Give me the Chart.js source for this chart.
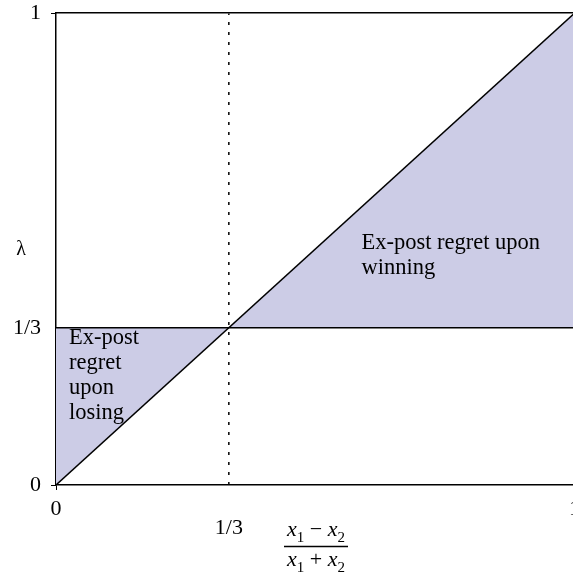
<!DOCTYPE html>
<html>
<head>
<meta charset="utf-8">
<script src="https://cdn.jsdelivr.net/npm/chart.js@4"></script>
<style>
  html, body { margin: 0; padding: 0; overflow: hidden; background: #fff; }
  canvas { display: block; margin-top: -10px; }
</style>
</head>
<body>
<canvas id="grafico" width="589" height="586" style="width:589px;height:586px"></canvas>
<script>
// Datos
const tercio = 1 / 3;
const xTicks = [0, tercio, 1];
const xTickLabels = ['0', ['', '1/3'], '1'];
const yTicks = [0, tercio, 1];
const yTickLabels = ['0', '1/3', '1'];

const diagonalX = [0, 1];
const diagonalY = [0, 1];
const horizontalX = [0, 1];
const horizontalY = [tercio, tercio];
const verticalX = [tercio, tercio];
const verticalY = [0, 1];
const zonaPerderX = [0, 0, tercio];
const zonaPerderY = [0, tercio, tercio];
const zonaGanarX = [tercio, 1, 1];
const zonaGanarY = [tercio, 1, tercio];

const textoGanar = ['Ex-post regret upon', 'winning'];
const textoPerder = ['Ex-post', 'regret', 'upon', 'losing'];

const fuente = '"Liberation Serif", "Times New Roman", serif';
const lavanda = 'rgb(204,204,230)';
const desfase = 10; // el canvas sube 10px

const puntos = (xs, ys) => xs.map((x, i) => ({ x: x, y: ys[i] }));

// Rótulos: lambda, anotaciones y título del eje x
const rotulos = {
    id: 'rotulos',
    afterDraw(chart) {
        const ctx = chart.ctx;
        const xs = chart.scales.x;
        const ys = chart.scales.y;
        ctx.save();
        ctx.fillStyle = '#000';
        ctx.font = '20px ' + fuente;
        ctx.textBaseline = 'middle';

        ctx.textAlign = 'center';
        ctx.fillText('λ', 21, 250 + desfase);

        ctx.font = '22.5px ' + fuente;
        ctx.textAlign = 'left';
        textoGanar.forEach((t, i) => {
            ctx.fillText(t, xs.getPixelForValue(0.589), ys.getPixelForValue(0.512) + i * 25);
        });
        textoPerder.forEach((t, i) => {
            ctx.fillText(t, xs.getPixelForValue(0.025), ys.getPixelForValue(0.311) + i * 25);
        });

        // fracción (x1 - x2)/(x1 + x2)
        ctx.textBaseline = 'alphabetic';
        const piezas = (op) => [
            { t: 'x', f: 'italic 22px ' + fuente, dy: 0 },
            { t: '1', f: '15px ' + fuente, dy: 6 },
            { t: op, f: '22px ' + fuente, dy: 0 },
            { t: 'x', f: 'italic 22px ' + fuente, dy: 0 },
            { t: '2', f: '15px ' + fuente, dy: 6 }
        ];
        const dibujar = (lista, cx, base) => {
            let ancho = 0;
            lista.forEach(p => { ctx.font = p.f; ancho += ctx.measureText(p.t).width; });
            let x = cx - ancho / 2;
            lista.forEach(p => {
                ctx.font = p.f;
                ctx.fillText(p.t, x, base + p.dy);
                x += ctx.measureText(p.t).width;
            });
        };
        dibujar(piezas(' − '), 316, 536 + desfase);
        dibujar(piezas(' + '), 316, 566 + desfase);
        ctx.strokeStyle = '#000';
        ctx.lineWidth = 1.5;
        ctx.beginPath();
        ctx.moveTo(284, 546.5 + desfase);
        ctx.lineTo(348, 546.5 + desfase);
        ctx.stroke();
        ctx.restore();
    }
};

const colorTick = (ctx) => (ctx.tick && Math.abs(ctx.tick.value - tercio) < 1e-9) ? 'rgba(0,0,0,0)' : '#000';

new Chart(document.getElementById('grafico').getContext('2d'), {
    type: 'line',
    data: {
        datasets: [
            { data: puntos(diagonalX, diagonalY), borderColor: '#000', borderWidth: 1.5, pointRadius: 0, fill: false, order: 1 },
            { data: puntos(horizontalX, horizontalY), borderColor: '#000', borderWidth: 1.5, pointRadius: 0, fill: false, order: 1 },
            { data: puntos(verticalX, verticalY), borderColor: '#000', borderWidth: 1.5, borderDash: [3, 7], pointRadius: 0, fill: false, order: 1 },
            { data: puntos(zonaPerderX, zonaPerderY), borderWidth: 0, borderColor: lavanda, backgroundColor: lavanda, pointRadius: 0, fill: 'shape', order: 2 },
            { data: puntos(zonaGanarX, zonaGanarY), borderWidth: 0, borderColor: lavanda, backgroundColor: lavanda, pointRadius: 0, fill: 'shape', order: 2 }
        ]
    },
    options: {
        responsive: false,
        animation: false,
        layout: { padding: { left: 0, right: 5, top: 0, bottom: 0 } },
        plugins: { legend: { display: false }, tooltip: { enabled: false } },
        scales: {
            x: {
                type: 'linear', position: 'bottom', min: 0, max: 1,
                afterBuildTicks: s => { s.ticks = xTicks.map(v => ({ value: v })); },
                afterFit: s => { s.height = 91; },
                ticks: {
                    callback: (v, i) => xTickLabels[i],
                    font: { family: fuente, size: 22, lineHeight: 0.9 }, color: '#000',
                    maxRotation: 0, autoSkip: false, padding: 9
                },
                grid: { drawOnChartArea: false, tickLength: 5, color: colorTick },
                border: { color: '#000', width: 1.5 }
            },
            xArriba: {
                type: 'linear', axis: 'x', position: 'top', min: 0, max: 1,
                afterFit: s => { s.height = 11; },
                ticks: { display: false },
                grid: { drawOnChartArea: false, drawTicks: false },
                border: { color: '#000', width: 1.5 }
            },
            y: {
                type: 'linear', position: 'left', min: 0, max: 1,
                afterBuildTicks: s => { s.ticks = yTicks.map(v => ({ value: v })); },
                afterFit: s => { s.width = 56; },
                ticks: {
                    callback: (v, i) => yTickLabels[i],
                    font: { family: fuente, size: 22 }, color: '#000', padding: 10
                },
                grid: { drawOnChartArea: false, tickLength: 5, color: colorTick },
                border: { color: '#000', width: 1.5 }
            }
        }
    },
    plugins: [rotulos]
});
</script>
</body>
</html>
